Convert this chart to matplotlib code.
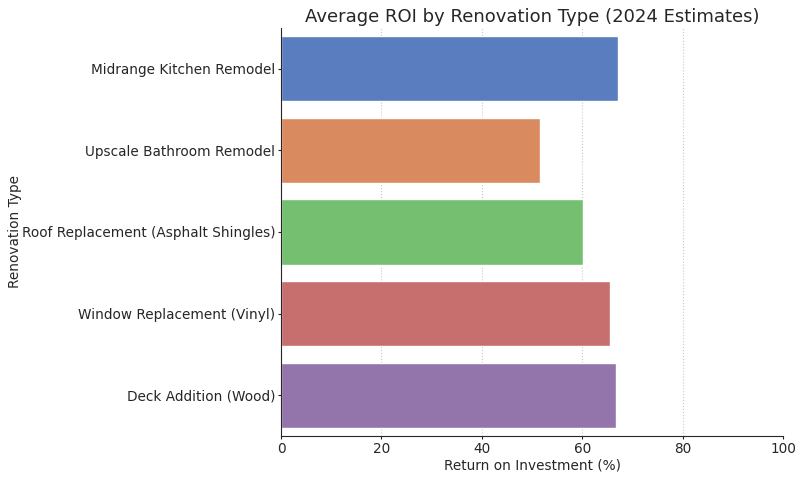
import matplotlib
matplotlib.use("Agg")
import matplotlib.pyplot as plt
import seaborn as sns
import pandas as pd

renovations = ['Midrange Kitchen Remodel', 'Upscale Bathroom Remodel',
               'Roof Replacement (Asphalt Shingles)', 'Window Replacement (Vinyl)',
               'Deck Addition (Wood)']
roi = [67.2, 51.6, 60.1, 65.6, 66.7]

df = pd.DataFrame({'Renovation Type': renovations, 'ROI': roi})

sns.set_style("ticks")
plt.rcParams['font.family'] = ['DejaVu Sans']

fig = plt.figure(figsize=(8.02, 4.79), dpi=100)
ax = fig.add_axes([0.3504, 0.0898, 0.626, 0.852])

sns.barplot(data=df, x='ROI', y='Renovation Type', hue='Renovation Type',
            palette='muted', legend=False, ax=ax)

ax.set_xlim(0, 100)
ax.set_title('Average ROI by Renovation Type (2024 Estimates)', fontsize=13, pad=4)
ax.set_xlabel('Return on Investment (%)', fontsize=9.8, labelpad=2)
ax.set_ylabel('Renovation Type', fontsize=9.8, labelpad=0)
ax.tick_params(axis='y', length=2, pad=2, labelsize=9.8)
ax.tick_params(axis='x', length=2, pad=2, labelsize=9.8)
ax.xaxis.grid(True, linestyle=':', color='#c8c8c8', linewidth=0.8)
ax.set_axisbelow(True)
sns.despine(ax=ax)

fig.savefig('out.png', dpi=100)
